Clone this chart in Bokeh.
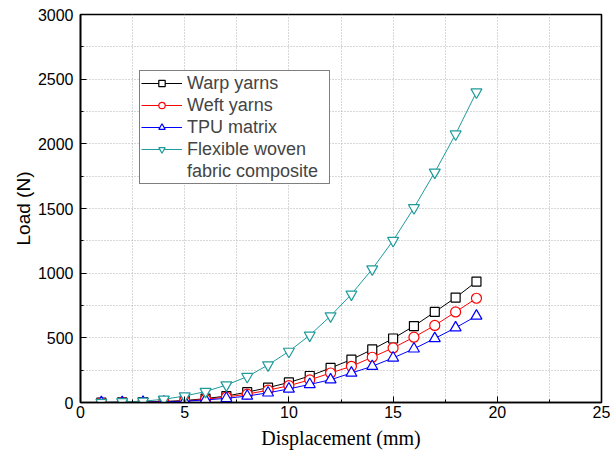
from bokeh.plotting import figure
from bokeh.models import Range1d, FixedTicker, Legend, LegendItem
from bokeh.embed import file_html
from bokeh.resources import INLINE

x = [1, 2, 3, 4, 5, 6, 7, 8, 9, 10, 11, 12, 13, 14, 15, 16, 17, 18, 19]
warp = [0, 1, 3, 8, 15, 30, 50, 80, 115, 155, 205, 267, 332, 410, 495, 591, 700, 811, 935]
weft = [0, 1, 2, 6, 12, 25, 42, 65, 95, 130, 175, 228, 280, 350, 422, 505, 596, 700, 806]
tpu = [0, 1, 2, 5, 10, 20, 32, 50, 75, 105, 140, 176, 228, 280, 345, 415, 495, 578, 669]
fwfc = [0, 5, 10, 25, 50, 85, 135, 200, 290, 395, 520, 669, 837, 1032, 1252, 1505, 1780, 2075, 2400]

names = ["Warp yarns", "Weft yarns", "TPU matrix", "Flexible woven"]
extra_label = "fabric composite"
colors = ["black", "red", "blue", "#1f9b9b"]
markers = ["square", "circle", "triangle", "inverted_triangle"]
marker_sizes = [9, 10, 11, 11]
series = [warp, weft, tpu, fwfc]
x_ticks = [0, 5, 10, 15, 20, 25]
x_minor = [2.5, 7.5, 12.5, 17.5, 22.5]
y_ticks = [0, 500, 1000, 1500, 2000, 2500, 3000]
y_minor = [250, 750, 1250, 1750, 2250, 2750]

p = figure(width=610, height=454, output_backend="svg", toolbar_location=None,
           x_range=Range1d(0, 25), y_range=Range1d(0, 3000),
           min_border_left=80, min_border_right=9, min_border_top=14, min_border_bottom=52)
p.background_fill_color = "white"
p.border_fill_color = "white"
p.outline_line_color = "black"
p.outline_line_width = 1.6

items = []
for name, c, m, ms, s in zip(names, colors, markers, marker_sizes, series):
    r1 = p.line(x, s, line_color=c, line_width=1)
    r2 = p.scatter(x, s, marker=m, size=ms, line_color=c, fill_color="white", fill_alpha=1, line_width=1.2)
    items.append(LegendItem(label=name, renderers=[r1, r2]))
dummy = p.scatter([], [], marker="square", size=1, line_alpha=0, fill_alpha=0)
items.append(LegendItem(label=extra_label, renderers=[dummy]))

xa = p.xaxis[0]
ya = p.yaxis[0]
for ax in (xa, ya):
    ax.major_tick_in = 6
    ax.major_tick_out = 0
    ax.minor_tick_in = 3
    ax.minor_tick_out = 0
    ax.major_label_text_font = "Liberation Sans"
    ax.major_label_text_font_size = "16px"
    ax.major_label_text_color = "black"
    ax.axis_line_color = "black"
    ax.axis_line_width = 1.6
    ax.major_tick_line_color = "black"
    ax.minor_tick_line_color = "black"
    ax.axis_label_text_color = "black"

xa.ticker = FixedTicker(ticks=x_ticks, minor_ticks=x_minor)
ya.ticker = FixedTicker(ticks=y_ticks, minor_ticks=y_minor)
xa.major_label_standoff = 3
ya.major_label_standoff = 7

xa.axis_label = "Displacement (mm)"
xa.axis_label_text_font = "Liberation Serif"
xa.axis_label_text_font_style = "normal"
xa.axis_label_text_font_size = "20px"
xa.axis_label_standoff = 6
ya.axis_label = "Load (N)"
ya.axis_label_text_font = "Liberation Sans"
ya.axis_label_text_font_style = "normal"
ya.axis_label_text_font_size = "19px"
ya.axis_label_standoff = 1

for g in (p.xgrid[0], p.ygrid[0]):
    g.grid_line_color = "#b0b0b0"
    g.grid_line_dash = "1 2"
    g.grid_line_width = 1
    g.minor_grid_line_color = "#b0b0b0"
    g.minor_grid_line_dash = "1 2"
    g.minor_grid_line_width = 1

legend = Legend(items=items, location=(59, 218))
legend.border_line_color = "black"
legend.border_line_width = 1.2
legend.label_text_font = "Liberation Sans"
legend.label_text_font_size = "18px"
legend.glyph_width = 41
legend.glyph_height = 16
legend.label_height = 22
legend.label_width = 141
legend.spacing = 0
legend.padding = 1
legend.margin = 0
legend.label_standoff = 5
legend.background_fill_alpha = 1
p.add_layout(legend, "center")

open("out.html", "w").write(file_html(p, INLINE))
